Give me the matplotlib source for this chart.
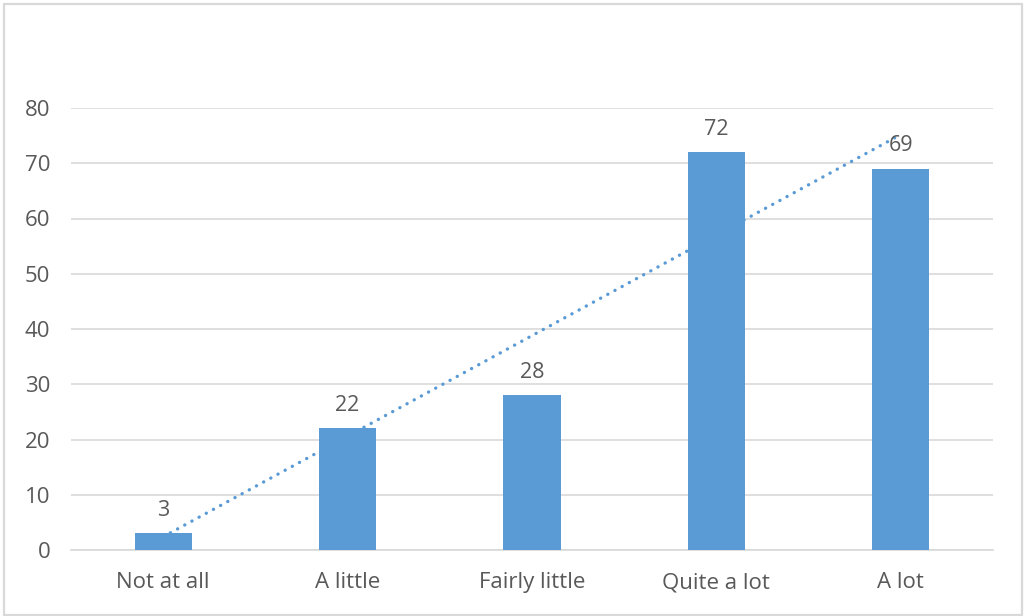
import matplotlib.pyplot as plt
from matplotlib.patches import Rectangle
import numpy as np

categories = ["Not at all", "A little", "Fairly little", "Quite a lot", "A lot"]
counts = [3, 22, 28, 72, 69]
y_ticks = [0, 10, 20, 30, 40, 50, 60, 70, 80]

bar_color = "#5B9BD5"
grid_color = "#D9D9D9"
text_color = "#595959"

plt.rcParams["font.family"] = ["Open Sans", "DejaVu Sans"]

fig = plt.figure(figsize=(10.24, 6.16), dpi=100)
ax = fig.add_axes([71 / 1024, 66 / 616, 922 / 1024, 442 / 616])

x = np.arange(len(categories))
ax.bar(x, counts, width=0.31, color=bar_color, zorder=3)

# value labels above each bar
for xi, v in zip(x, counts):
    ax.annotate(str(v), (xi, v), xytext=(0, 9), textcoords="offset points",
                ha="center", va="bottom", fontsize=15.5, color=text_color, zorder=5)

# linear trendline over the category positions
slope, intercept = np.polyfit(x, counts, 1)
ax.plot(x, slope * x + intercept, linestyle=(0, (0.05, 2.4)), linewidth=2.4,
        color=bar_color, dash_capstyle="round", zorder=4)

ax.set_xlim(-0.5, len(categories) - 0.5)
ax.set_ylim(0, 80)
ax.set_yticks(y_ticks)
ax.set_xticks(x)
ax.set_xticklabels(categories)
ax.yaxis.grid(True, color=grid_color, linewidth=1.2, zorder=0)
ax.set_axisbelow(True)

for side in ["top", "right", "left"]:
    ax.spines[side].set_visible(False)
ax.spines["bottom"].set_color(grid_color)
ax.spines["bottom"].set_linewidth(1.2)
ax.spines["bottom"].set_zorder(1)

ax.tick_params(axis="both", length=0, labelsize=16, colors=text_color)
ax.tick_params(axis="y", pad=15)
ax.tick_params(axis="x", pad=16)

# light frame around the whole chart area
fig.patches.append(Rectangle((4 / 1024, 1 / 616), 1018 / 1024, 611 / 616,
                             transform=fig.transFigure, fill=False,
                             edgecolor=grid_color, linewidth=1.6))

fig.savefig("out.png", dpi=100, facecolor="white")
